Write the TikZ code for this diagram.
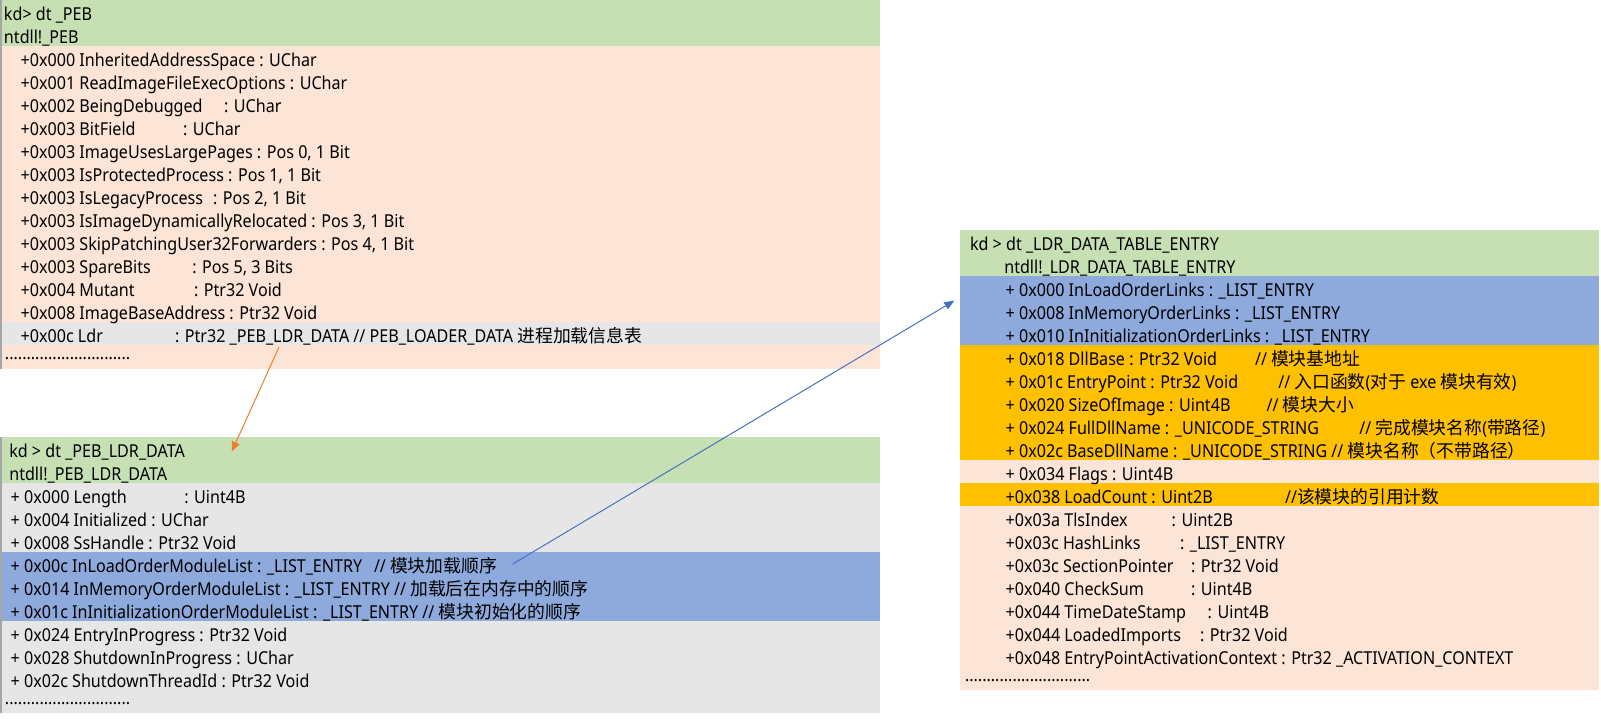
\documentclass[tikz,border=0pt]{standalone}
\usepackage{fontspec}
\setmainfont[FakeStretch=0.905]{Noto Sans}
\newfontfamily\zhfont{Noto Sans CJK SC}
\newcommand\zh[1]{{\zhfont #1}}
\usetikzlibrary{arrows.meta}
\definecolor{hdrgreen}{HTML}{C6E0B4}
\definecolor{peach}{HTML}{FCE4D6}
\definecolor{lgray}{HTML}{E7E6E6}
\definecolor{lblue}{HTML}{8EA9DB}
\definecolor{gold}{HTML}{FFC000}
\definecolor{arrorange}{HTML}{ED7D31}
\definecolor{arrblue}{HTML}{4472C4}
\definecolor{edgegray}{HTML}{A6A6A6}
\tikzset{
  txt/.style={anchor=base west, inner sep=0pt, outer sep=0pt, text=black,
    font=\fontsize{17.8}{20}\selectfont},
  link/.style={line width=1pt, -{Triangle[length=10pt,width=8pt]}},
}
\begin{document}
\begin{tikzpicture}[x=1pt,y=-1pt]
\useasboundingbox (0,0) rectangle (1601,718);
\fill[white] (0,0) rectangle (1601,718);
% ---------- PEB box ----------
\fill[hdrgreen] (0,0) rectangle (880,46);
\fill[peach] (0,46) rectangle (880,322);
\fill[lgray] (0,322) rectangle (880,345);
\fill[peach] (0,345) rectangle (880,369);
\draw[edgegray, line width=1.5pt] (0.75,0) -- (0.75,369);
\node[txt] (a0) at (4,20) {kd> dt \_PEB};
\node[txt] (a1) at (4,43) {ntdll!\_PEB};
\node[txt] (a2) at (20.7,66) {+0x000 InheritedAddressSpace : UChar};
\node[txt] (a3) at (20.7,89) {+0x001 ReadImageFileExecOptions : UChar};
\node[txt] (a4) at (20.7,112) {+0x002 BeingDebugged};
\node[txt] (a4b) at (224,112) {: UChar};
\node[txt] (a5) at (20.7,135) {+0x003 BitField};
\node[txt] (a5b) at (183,135) {: UChar};
\node[txt] (a6) at (20.7,158) {+0x003 ImageUsesLargePages : Pos 0, 1 Bit};
\node[txt] (a7) at (20.7,181) {+0x003 IsProtectedProcess : Pos 1, 1 Bit};
\node[txt] (a8) at (20.7,204) {+0x003 IsLegacyProcess};
\node[txt] (a8b) at (213,204) {: Pos 2, 1 Bit};
\node[txt] (a9) at (20.7,227) {+0x003 IsImageDynamicallyRelocated : Pos 3, 1 Bit};
\node[txt] (a10) at (20.7,250) {+0x003 SkipPatchingUser32Forwarders : Pos 4, 1 Bit};
\node[txt] (a11) at (20.7,273) {+0x003 SpareBits};
\node[txt] (a11b) at (192.3,273) {: Pos 5, 3 Bits};
\node[txt] (a12) at (20.7,296) {+0x004 Mutant};
\node[txt] (a12b) at (194,296) {: Ptr32 Void};
\node[txt] (a13) at (20.7,319) {+0x008 ImageBaseAddress : Ptr32 Void};
\node[txt] (a14) at (20.7,342) {+0x00c Ldr};
\node[txt] (a14b) at (175,342) {: Ptr32 \_PEB\_LDR\_DATA // PEB\_LOADER\_DATA \zh{进程加载信息表}};
\node[txt] (a15) at (5,359) {.............................};
% ---------- PEB_LDR_DATA box ----------
\fill[hdrgreen] (0,437) rectangle (880,483);
\fill[lgray] (0,483) rectangle (880,552);
\fill[lblue] (0,552) rectangle (880,621);
\fill[lgray] (0,621) rectangle (880,713);
\draw[edgegray, line width=1.5pt] (0.75,437) -- (0.75,713);
\node[txt] (b0) at (9.3,457) {kd > dt \_PEB\_LDR\_DATA};
\node[txt] (b1) at (9.3,480) {ntdll!\_PEB\_LDR\_DATA};
\node[txt] (b2) at (10.7,503) {+ 0x000 Length};
\node[txt] (b2b) at (184.3,503) {: Uint4B};
\node[txt] (b3) at (10.7,526) {+ 0x004 Initialized : UChar};
\node[txt] (b4) at (10.7,549) {+ 0x008 SsHandle : Ptr32 Void};
\node[txt] (b5) at (10.7,572) {+ 0x00c InLoadOrderModuleList : \_LIST\_ENTRY};
\node[txt] (b5b) at (374,572) {// \zh{模块加载顺序}};
\node[txt] (b6) at (10.7,595) {+ 0x014 InMemoryOrderModuleList : \_LIST\_ENTRY // \zh{加载后在内存中的顺序}};
\node[txt] (b7) at (10.7,618) {+ 0x01c InInitializationOrderModuleList : \_LIST\_ENTRY // \zh{模块初始化的顺序}};
\node[txt] (b8) at (10.7,641) {+ 0x024 EntryInProgress : Ptr32 Void};
\node[txt] (b9) at (10.7,664) {+ 0x028 ShutdownInProgress : UChar};
\node[txt] (b10) at (10.7,687) {+ 0x02c ShutdownThreadId : Ptr32 Void};
\node[txt] (b11) at (5,704) {.............................};
% ---------- LDR_DATA_TABLE_ENTRY box ----------
\fill[hdrgreen] (960,230) rectangle (1599,276);
\fill[lblue] (960,276) rectangle (1599,345);
\fill[gold] (960,345) rectangle (1599,460);
\fill[peach] (960,460) rectangle (1599,483);
\fill[gold] (960,483) rectangle (1599,506);
\fill[peach] (960,506) rectangle (1599,690);
\node[txt] (c0) at (970,250) {kd > dt \_LDR\_DATA\_TABLE\_ENTRY};
\node[txt] (c1) at (1004.3,273) {ntdll!\_LDR\_DATA\_TABLE\_ENTRY};
\node[txt] (c2) at (1005.7,296) {+ 0x000 InLoadOrderLinks : \_LIST\_ENTRY};
\node[txt] (c3) at (1005.7,319) {+ 0x008 InMemoryOrderLinks : \_LIST\_ENTRY};
\node[txt] (c4) at (1005.7,342) {+ 0x010 InInitializationOrderLinks : \_LIST\_ENTRY};
\node[txt] (c5) at (1005.7,365) {+ 0x018 DllBase : Ptr32 Void};
\node[txt] (c5b) at (1255,365) {// \zh{模块基地址}};
\node[txt] (c6) at (1005.7,388) {+ 0x01c EntryPoint : Ptr32 Void};
\node[txt] (c6b) at (1278.3,388) {// \zh{入口函数}(\zh{对于} exe \zh{模块有效})};
\node[txt] (c7) at (1005.7,411) {+ 0x020 SizeOfImage : Uint4B};
\node[txt] (c7b) at (1266.7,411) {// \zh{模块大小}};
\node[txt] (c8) at (1005.7,434) {+ 0x024 FullDllName : \_UNICODE\_STRING};
\node[txt] (c8b) at (1359.3,434) {// \zh{完成模块名称}(\zh{带路径})};
\node[txt] (c9) at (1005.7,457) {+ 0x02c BaseDllName : \_UNICODE\_STRING // \zh{模块名称（不带路径）}};
\node[txt] (c10) at (1005.7,480) {+ 0x034 Flags : Uint4B};
\node[txt] (c11) at (1005.7,503) {+0x038 LoadCount : Uint2B};
\node[txt] (c11b) at (1285,503) {//\zh{该模块的引用计数}};
\node[txt] (c12) at (1005.7,526) {+0x03a TlsIndex};
\node[txt] (c12b) at (1171.7,526) {: Uint2B};
\node[txt] (c13) at (1005.7,549) {+0x03c HashLinks};
\node[txt] (c13b) at (1180,549) {: \_LIST\_ENTRY};
\node[txt] (c14) at (1005.7,572) {+0x03c SectionPointer};
\node[txt] (c14b) at (1191,572) {: Ptr32 Void};
\node[txt] (c15) at (1005.7,595) {+0x040 CheckSum};
\node[txt] (c15b) at (1191,595) {: Uint4B};
\node[txt] (c16) at (1005.7,618) {+0x044 TimeDateStamp};
\node[txt] (c16b) at (1207.7,618) {: Uint4B};
\node[txt] (c17) at (1005.7,641) {+0x044 LoadedImports};
\node[txt] (c17b) at (1200,641) {: Ptr32 Void};
\node[txt] (c18) at (1005.7,664) {+0x048 EntryPointActivationContext : Ptr32 \_ACTIVATION\_CONTEXT};
\node[txt] (c19) at (965,681) {.............................};
% ---------- connectors ----------
\coordinate (ldrfrom) at (279,347);
\coordinate (ldrto) at (231.7,451.7);
\coordinate (listfrom) at (512.7,564);
\coordinate (listto) at (954.3,300.7);
\draw[link, arrorange] (ldrfrom) -- (ldrto);
\draw[link, arrblue] (listfrom) -- (listto);
\end{tikzpicture}
\end{document}
